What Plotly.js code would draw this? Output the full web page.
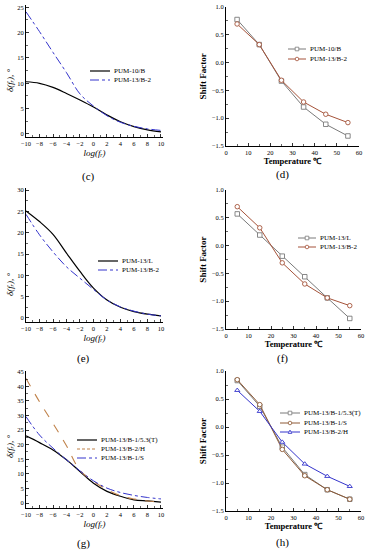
<!DOCTYPE html>
<html><head><meta charset="utf-8">
<script src="https://cdn.plot.ly/plotly-3.0.1.min.js"></script>
<style>html,body{margin:0;padding:0;background:#fff;overflow:hidden}</style>
</head><body><div id="chart" style="width:369px;height:550px"></div>
<script>
// ---- data ----
const logF = [-10, -8, -6, -4, -2, 0, 2, 4, 6, 8, 10];
const c_PUM10B  = [10.3, 10.0, 9.2, 8.0, 6.7, 5.3, 3.75, 2.4, 1.45, 0.8, 0.4];
const c_PUM13B2 = [24.1, 20.2, 16.1, 12.1, 7.9, 5.5, 3.6, 2.3, 1.5, 1.0, 0.7];
const e_PUM13L  = [25.1, 22.6, 19.6, 15.2, 10.9, 7.0, 4.2, 2.5, 1.5, 0.9, 0.5];
const e_PUM13B2 = [24.3, 19.5, 15.5, 12.0, 9.3, 6.7, 4.2, 2.6, 1.6, 0.9, 0.5];
const g_PUM13B1T = [23.0, 20.7, 18.2, 14.8, 10.8, 6.8, 4.0, 2.3, 1.1, 0.7, 0.3];
const g_PUM13B2H = [42.7, 34.7, 27.3, 19.6, 11.2, 7.4, 4.6, 2.5, 1.4, 0.7, 0.35];
const g_PUM13B1S = [29.6, 23.3, 18.8, 14.8, 11.0, 7.6, 5.1, 3.6, 2.6, 1.9, 1.4];

const temp = [5, 15, 25, 35, 45, 55];
const d_PUM10B  = [0.77, 0.32, -0.335, -0.80, -1.11, -1.32];
const d_PUM13B2 = [0.69, 0.32, -0.32, -0.71, -0.93, -1.08];
const f_PUM13L  = [0.57, 0.19, -0.19, -0.56, -0.94, -1.31];
const f_PUM13B2 = [0.70, 0.32, -0.31, -0.69, -0.94, -1.08];
const h_PUM13B1T = [0.83, 0.37, -0.36, -0.85, -1.12, -1.29];
const h_PUM13B1S = [0.845, 0.40, -0.40, -0.87, -1.12, -1.29];
const h_PUM13B2H = [0.655, 0.28, -0.27, -0.66, -0.88, -1.06];

const panelLabels = ['(c)', '(d)', '(e)', '(f)', '(g)', '(h)'];

// ---- helpers ----
const W = 369, H = 550;
const px = x => x / W;
const py = y => 1 - y / H;
const dX = (a, b) => [a / W, b / W];
const dY = (t, b) => [1 - b / H, 1 - t / H];
const SERIF = 'Liberation Serif, Times New Roman, serif';
const GRAY = '#7a7a7a', BROWN = '#a5533a', BROWN2 = '#8e5a36', BLUE = '#3434cc', TAN = '#c0824a';

function ax(domain, range, anchor, extra) {
  return Object.assign({
    domain, range, anchor, showline: true, linecolor: '#000', linewidth: 1,
    ticks: 'inside', ticklen: 3, tickwidth: 0.8, tickcolor: '#000',
    showgrid: false, zeroline: false, fixedrange: true,
    tickfont: {family: SERIF, size: 6.5, color: '#000'}
  }, extra);
}
const minor = d => ({ticks: 'inside', ticklen: 1.6, tickwidth: 0.6, tickcolor: '#000', dtick: d, showgrid: false});
const xLogTitle = {text: 'log(fᵣ)', font: {family: SERIF, size: 9, color: '#000', style: 'italic'}, standoff: 3};
const xTempTitle = {text: 'Temperature ℃', font: {family: SERIF, size: 8.5, color: '#000', weight: 'bold'}, standoff: 3};
const yShiftTitle = {text: 'Shift Factor', font: {family: SERIF, size: 9, color: '#000', weight: 'bold'}, standoff: 3};

const logX = {tick0: -10, dtick: 2, minor: minor(1), title: xLogTitle};
const tempX = {tick0: 0, dtick: 10, minor: minor(5), title: xTempTitle};
const shiftY = {tick0: -1.5, dtick: 0.5, minor: minor(0.25), tickformat: '.1f', title: yShiftTitle};
const deltaY = {tick0: 0, dtick: 5, minor: minor(2.5)};

function curve(x, y, name, color, dash, width, xa, ya) {
  return {x, y, name, type: 'scatter', mode: 'lines', xaxis: xa, yaxis: ya,
    line: {color, dash, width, shape: 'spline', smoothing: 1}, showlegend: false, hoverinfo: 'skip'};
}
function pts(x, y, name, color, symbol, xa, ya) {
  return {x, y, name, type: 'scatter', mode: 'lines+markers', xaxis: xa, yaxis: ya,
    line: {color, width: 1}, marker: {symbol, size: 4.5, color: '#fff', line: {color, width: 0.9}},
    showlegend: false, hoverinfo: 'skip'};
}

const traces = [
  curve(logF, c_PUM10B, 'PUM-10/B', '#000', 'solid', 1.2, 'x', 'y'),
  curve(logF, c_PUM13B2, 'PUM-13/B-2', BLUE, 'dashdot', 1, 'x', 'y'),
  pts(temp, d_PUM10B, 'PUM-10/B', GRAY, 'square', 'x2', 'y2'),
  pts(temp, d_PUM13B2, 'PUM-13/B-2', BROWN, 'circle', 'x2', 'y2'),
  curve(logF, e_PUM13L, 'PUM-13/L', '#000', 'solid', 1.2, 'x3', 'y3'),
  curve(logF, e_PUM13B2, 'PUM-13/B-2', BLUE, 'dashdot', 1, 'x3', 'y3'),
  pts(temp, f_PUM13L, 'PUM-13/L', GRAY, 'square', 'x4', 'y4'),
  pts(temp, f_PUM13B2, 'PUM-13/B-2', BROWN, 'circle', 'x4', 'y4'),
  curve(logF, g_PUM13B1T, 'PUM-13/B-1/5.3(T)', '#000', 'solid', 1.2, 'x5', 'y5'),
  curve(logF, g_PUM13B2H, 'PUM-13/B-2/H', TAN, 'dash', 1.1, 'x5', 'y5'),
  curve(logF, g_PUM13B1S, 'PUM-13/B-1/S', BLUE, 'dashdot', 1, 'x5', 'y5'),
  pts(temp, h_PUM13B1T, 'PUM-13/B-1/5.3(T)', GRAY, 'square', 'x6', 'y6'),
  pts(temp, h_PUM13B1S, 'PUM-13/B-1/S', BROWN2, 'circle', 'x6', 'y6'),
  pts(temp, h_PUM13B2H, 'PUM-13/B-2/H', BLUE, 'triangle-up', 'x6', 'y6'),
];

const shapes = [], annotations = [];
// manual legends built from the traces
function legend(traceIdx, x0, lineLen, rows) {
  traceIdx.forEach((ti, i) => {
    const t = traces[ti], y = rows[i];
    shapes.push({type: 'line', xref: 'paper', yref: 'paper', x0: px(x0), x1: px(x0 + lineLen),
      y0: py(y), y1: py(y), line: {color: t.line.color, width: t.line.width, dash: t.line.dash === 'dashdot' ? 'dashdot' : (t.line.dash === 'dash' ? '3px,2px' : 'solid')}});
    if (t.marker) {
      const cx = x0 + lineLen / 2, r = 1.8;
      const mk = {xref: 'paper', yref: 'paper', fillcolor: '#fff', line: {color: t.line.color, width: 0.8}};
      if (t.marker.symbol === 'square') shapes.push(Object.assign({type: 'rect', x0: px(cx - r), x1: px(cx + r), y0: py(y + r), y1: py(y - r)}, mk));
      else if (t.marker.symbol === 'circle') shapes.push(Object.assign({type: 'circle', x0: px(cx - r), x1: px(cx + r), y0: py(y + r), y1: py(y - r)}, mk));
      else shapes.push(Object.assign({type: 'path', path: `M${px(cx - r)},${py(y + r * 0.8)} L${px(cx + r)},${py(y + r * 0.8)} L${px(cx)},${py(y - r * 1.1)} Z`}, mk));
    }
    annotations.push({xref: 'paper', yref: 'paper', x: px(x0 + lineLen + 2), y: py(y), xanchor: 'left', yanchor: 'middle',
      text: t.name, showarrow: false, font: {family: SERIF, size: 7, color: '#000'}});
  });
}
legend([0, 1], 90, 20, [71, 80]);
legend([2, 3], 288, 18, [49, 59]);
legend([4, 5], 98, 20, [261, 270]);
legend([6, 7], 298, 18, [238, 247]);
legend([8, 9, 10], 77, 20, [440, 449, 458]);
legend([11, 12, 13], 280, 20, [413, 423, 432]);

// y titles of left column
[81, 285, 447].forEach(yc => {
  annotations.push({xref: 'paper', yref: 'paper', x: px(10), y: py(yc), xanchor: 'center', yanchor: 'middle', textangle: -90,
    text: 'δ(fᵣ), °', showarrow: false, font: {family: SERIF, size: 9, color: '#000', style: 'italic'}});
});
// panel labels
const labelPos = [[88, 177], [282, 174], [83, 358], [282, 358], [83, 543], [282, 542]];
panelLabels.forEach((t, i) => annotations.push({xref: 'paper', yref: 'paper', x: px(labelPos[i][0]), y: py(labelPos[i][1]),
  xanchor: 'center', yanchor: 'middle', text: t, showarrow: false, font: {family: SERIF, size: 11, color: '#000'}}));

const layout = {
  width: W, height: H, margin: {l: 0, r: 0, t: 0, b: 0}, paper_bgcolor: '#fff', plot_bgcolor: 'rgba(0,0,0,0)',
  showlegend: false,
  xaxis:  ax(dX(26, 163), [-10, 10.3], 'y', logX),
  yaxis:  ax(dY(5, 137), [-0.6, 25.45], 'x', deltaY),
  xaxis2: ax(dX(226, 359), [0, 60], 'y2', tempX),
  yaxis2: ax(dY(6.7, 146), [-1.5, 1.0], 'x2', shiftY),
  xaxis3: ax(dX(26, 163), [-10, 10.3], 'y3', logX),
  yaxis3: ax(dY(188, 322), [-0.94, 30.47], 'x3', deltaY),
  xaxis4: ax(dX(226, 361), [0, 60], 'y4', tempX),
  yaxis4: ax(dY(190, 329), [-1.5, 1.0], 'x4', shiftY),
  xaxis5: ax(dX(26, 163), [-10, 10.3], 'y5', logX),
  yaxis5: ax(dY(371, 508), [-1.71, 45.24], 'x5', deltaY),
  xaxis6: ax(dX(226, 361), [0, 60], 'y6', tempX),
  yaxis6: ax(dY(371, 511), [-1.5, 1.0], 'x6', shiftY),
  shapes, annotations
};
Plotly.newPlot('chart', traces, layout, {displayModeBar: false, staticPlot: true});
</script></body></html>
